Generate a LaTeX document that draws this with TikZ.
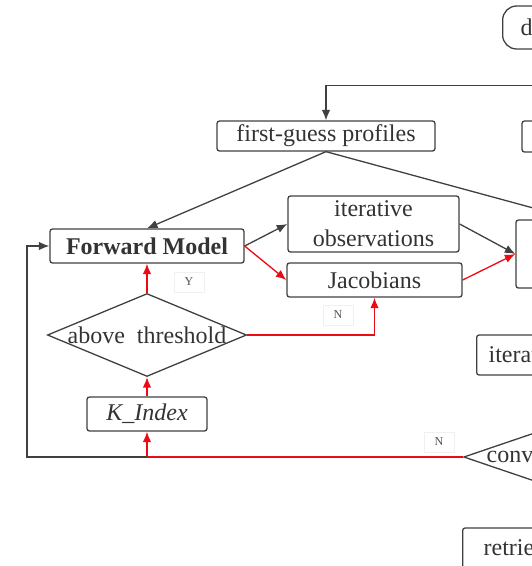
\documentclass[tikz,border=0pt]{standalone}
\usepackage{fontspec}
\setmainfont{Liberation Serif}
\usepackage{xcolor}
\usepackage{tikz}
\usetikzlibrary{shapes,arrows.meta,positioning,calc}

\definecolor{linegray}{HTML}{404040}
\definecolor{flowred}{HTML}{EE0A14}
\definecolor{txtgray}{HTML}{333333}

\begin{document}
\begin{tikzpicture}[
    x=1pt, y=-1pt,
    block/.style={rectangle, draw=linegray, line width=1.3pt, rounded corners=2.5pt, align=center, text=txtgray, font=\fontsize{24}{30}\selectfont, inner sep=0pt},
    cutblock/.style={block, align=left, anchor=west},
    pill/.style={cutblock, rounded corners=14pt},
    decision/.style={diamond, draw=linegray, line width=1.3pt, text=txtgray, font=\fontsize{24}{30}\selectfont, inner sep=0pt},
    tag/.style={rectangle, draw=gray!12, fill=white, text=txtgray!85, font=\fontsize{12}{14}\selectfont, minimum width=30pt, minimum height=20pt, inner sep=0pt},
    arrow/.style={-{Latex[length=10.5pt,width=8.5pt]}, draw=linegray, line width=1.3pt},
    redarrow/.style={arrow, draw=flowred}
]

% ── Frame (the crop of the chart) ──
\useasboundingbox (0,0) rectangle (532,566);
\clip (0,0) rectangle (532,566);

% ── Top row ──
\node[pill, text width=100pt, inner xsep=18pt, minimum height=43pt] (data) at (502,27.5) {d};

% ── Second row ──
\node[block, minimum width=218pt, minimum height=30pt] (guess) at (326,136) {first-guess profiles};
\node[block, minimum width=160pt, minimum height=31pt] (prior) at (602,136.5) {};

% ── Third row ──
\node[block, minimum width=194pt, minimum height=34pt, font=\fontsize{24}{30}\selectfont\bfseries] (fwd) at (147,246) {Forward Model};
\node[block, minimum width=171pt, minimum height=56pt] (iobs) at (373.5,224) {iterative\\observations};
\node[block, minimum width=175pt, minimum height=34pt] (jac) at (374.5,280) {Jacobians};
\node[block, minimum width=118pt, minimum height=68pt] (solver) at (575,254) {};

% ── Left column ──
\node[decision, aspect=2.4, minimum width=198pt, minimum height=81pt] (thr) at (147,335) {above~~threshold};
\node[block, minimum width=120pt, minimum height=34pt, font=\fontsize{24}{30}\selectfont\itshape] (kidx) at (147,414) {K\_Index};

% ── Right column (cut by the frame) ──
\node[cutblock, text width=176pt, inner xsep=12pt, minimum height=40pt] (iter) at (476,355) {iterat};
\node[decision, anchor=west, align=left, text width=150pt, aspect=4, minimum height=67pt] (conv) at (463,457) {conv};
\node[cutblock, text width=180pt, inner xsep=21pt, minimum height=40pt] (retr) at (462,548) {retrie};

% ═════════════════════════════════════════════
% ARROWS
% ═════════════════════════════════════════════

% data -> first guess
\draw[arrow] (data.south) -- ++(0,36) -| (guess.north);

% first guess -> forward model / solver
\draw[arrow] (guess.south) -- (fwd.north);
\draw[arrow] (guess.south) -- (solver.north);

% forward model -> observations, Jacobians
\draw[arrow] (fwd.east) -- (iobs.west);
\draw[redarrow] (fwd.east) -- (jac.west);

% observations, Jacobians -> solver
\draw[arrow] (iobs.east) -- (solver.west);
\draw[redarrow] (jac.east) -- (solver.west);

% threshold test
\draw[redarrow] (thr.north) -- (fwd.south);
\draw[redarrow] (thr.east) -| (jac.south);
\draw[redarrow] (kidx.north) -- (thr.south);

% not converged -> K_Index, forward model
\draw[redarrow] (conv.west) -- (kidx.south |- conv.west) -- (kidx.south);
\draw[arrow] (kidx.south |- conv.west) -- ++(-120,0) |- (fwd.west);

% ── Y / N tags ──
\node[tag] (yes) at (189,282) {Y};
\node[tag] (no) at (338,315) {N};
\node[tag] (noconv) at (439,442) {N};

\end{tikzpicture}
\end{document}
